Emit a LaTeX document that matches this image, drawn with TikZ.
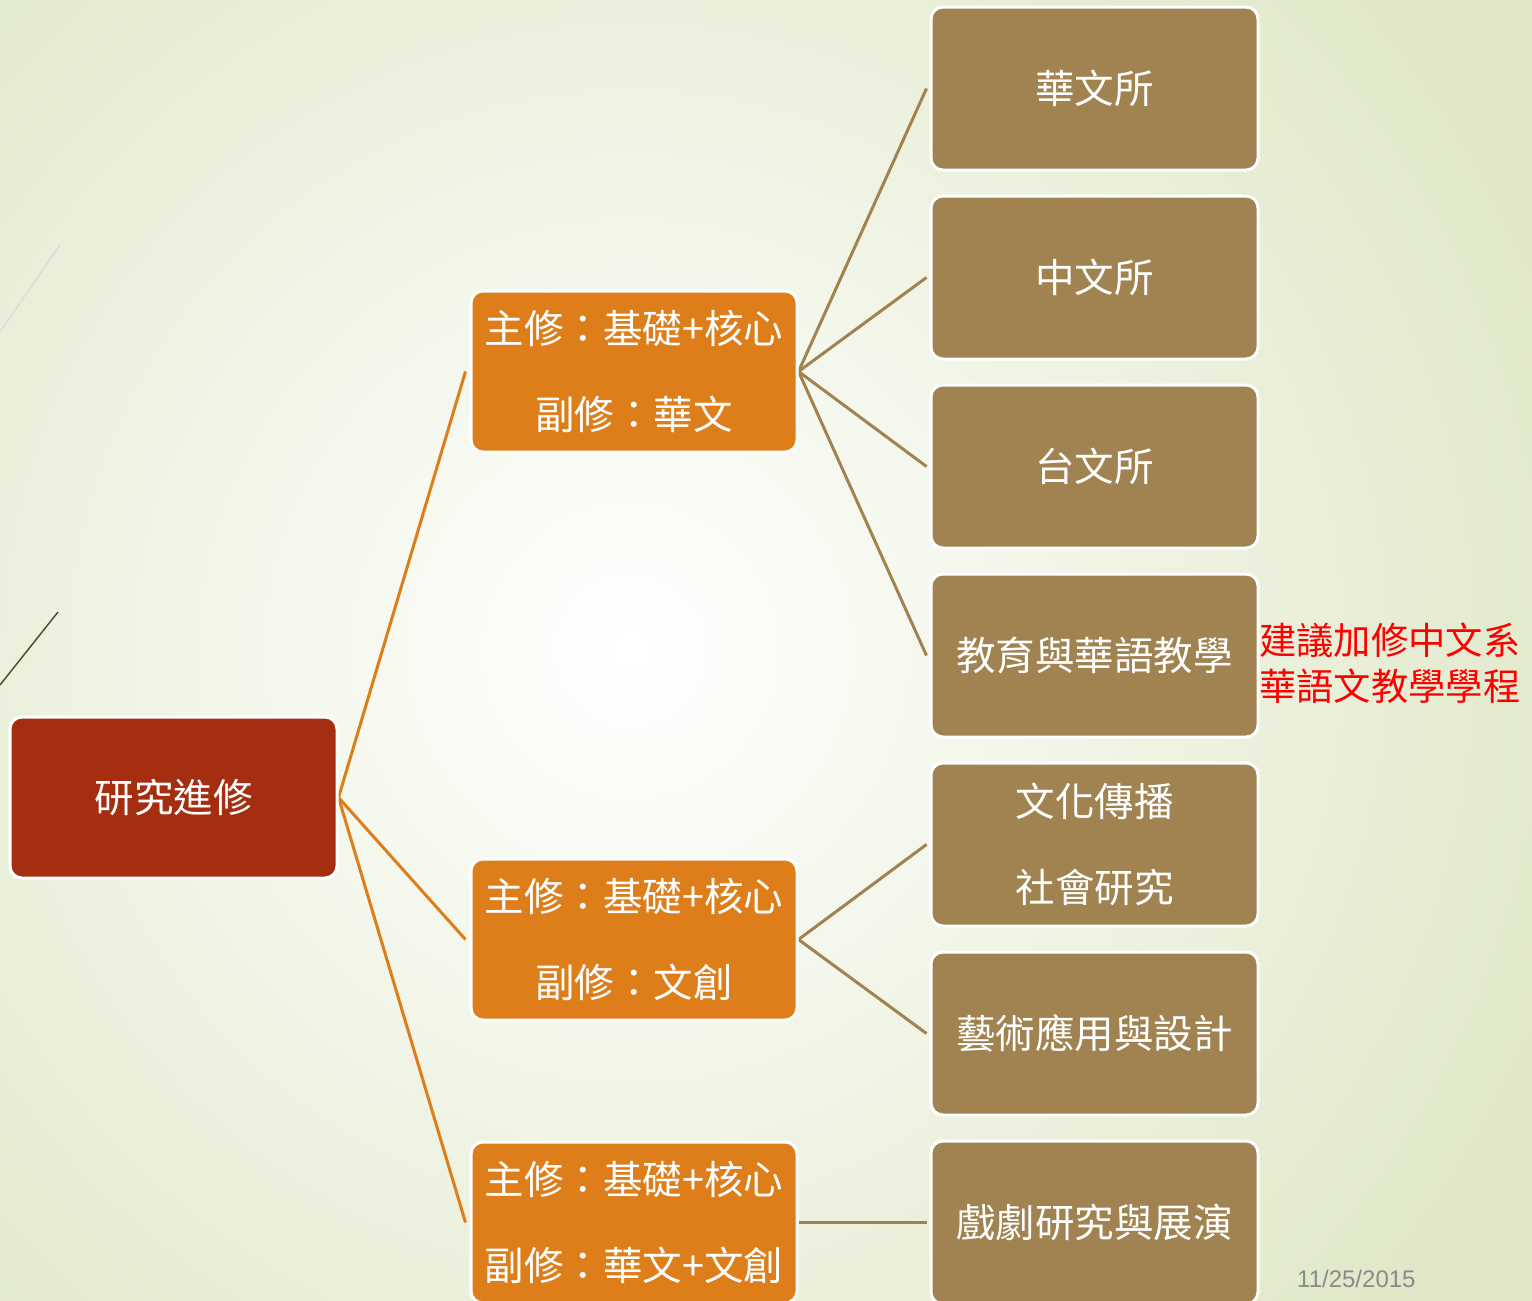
\documentclass[tikz,border=0pt]{standalone}
\usepackage{fontspec}
\setmainfont{Noto Sans CJK TC}
\newfontfamily\datefont{Liberation Sans}
\usetikzlibrary{backgrounds}
\definecolor{rootred}{RGB}{165,46,16}
\definecolor{midorange}{RGB}{221,126,26}
\definecolor{leafbrown}{RGB}{160,131,81}
\definecolor{bgouter}{RGB}{224,232,200}
\definecolor{dategray}{RGB}{138,138,138}
\pgfdeclarelayer{back}
\pgfdeclarelayer{lines}
\pgfsetlayers{back,lines,main}
\begin{document}
\begin{tikzpicture}[x=1pt,y=-1pt,
  box/.style={rectangle, rounded corners=12pt, draw=white, line width=3pt,
    text=white, align=center, font=\fontsize{39.5}{86}\selectfont, inner sep=0pt},
  rootbox/.style={box, fill=rootred, minimum width=327pt, minimum height=161pt},
  midbox/.style={box, fill=midorange, minimum width=326pt, minimum height=161pt},
  leafbox/.style={box, fill=leafbrown, minimum width=327pt, minimum height=163pt},
  orangeline/.style={draw=midorange, line width=3pt},
  brownline/.style={draw=leafbrown, line width=3pt},
  note/.style={text=red, align=left, font=\fontsize{37.3}{46}\selectfont, inner sep=0pt}
]
\useasboundingbox (0,0) rectangle (1532,1301);
\begin{pgfonlayer}{back}
  \fill[bgouter] (0,0) rectangle (1532,1301);
  \begin{scope}
    \clip (0,0) rectangle (1532,1301);
    \shade[inner color=white, outer color=bgouter] (630,650) circle (1000);
  \end{scope}
  \draw[black!15, line width=1pt] (0,332) -- (60,245);
  \draw[black!55!olive, line width=1.5pt] (0,685) -- (58,612);
\end{pgfonlayer}

\node[rootbox] (root) at (173.5,797.5) {研究進修};

\node[midbox] (m1) at (634,371.5) {主修：基礎+核心\\副修：華文};
\node[midbox] (m2) at (634,939.5) {主修：基礎+核心\\副修：文創};
\node[midbox] (m3) at (634,1222.5) {主修：基礎+核心\\副修：華文+文創};

\node[leafbox] (l1) at (1094.5,88.5) {華文所};
\node[leafbox] (l2) at (1094.5,277.5) {中文所};
\node[leafbox] (l3) at (1094.5,466.5) {台文所};
\node[leafbox] (l4) at (1094.5,655.5) {教育與華語教學};
\node[leafbox] (l5) at (1094.5,844.5) {文化傳播\\社會研究};
\node[leafbox] (l6) at (1094.5,1033.5) {藝術應用與設計};
\node[leafbox] (l7) at (1094.5,1222.5) {戲劇研究與展演};

\node[note, anchor=west] (note) at (1259,663) {建議加修中文系\\華語文教學學程};
\node[text=dategray, font=\datefont\fontsize{24}{28}\selectfont, anchor=west, inner sep=0pt] (date) at (1297,1279) {11/25/2015};

\begin{pgfonlayer}{lines}
  \draw[orangeline] (root.east) -- ([xshift=-4pt]m1.west);
  \draw[orangeline] (root.east) -- ([xshift=-4pt]m2.west);
  \draw[orangeline] (root.east) -- ([xshift=-4pt]m3.west);
  \draw[brownline] (m1.east) -- ([xshift=-3pt]l1.west);
  \draw[brownline] (m1.east) -- ([xshift=-3pt]l2.west);
  \draw[brownline] (m1.east) -- ([xshift=-3pt]l3.west);
  \draw[brownline] (m1.east) -- ([xshift=-3pt]l4.west);
  \draw[brownline] (m2.east) -- ([xshift=-3pt]l5.west);
  \draw[brownline] (m2.east) -- ([xshift=-3pt]l6.west);
  \draw[brownline] (m3.east) -- ([xshift=-3pt]l7.west);
\end{pgfonlayer}
\end{tikzpicture}
\end{document}
